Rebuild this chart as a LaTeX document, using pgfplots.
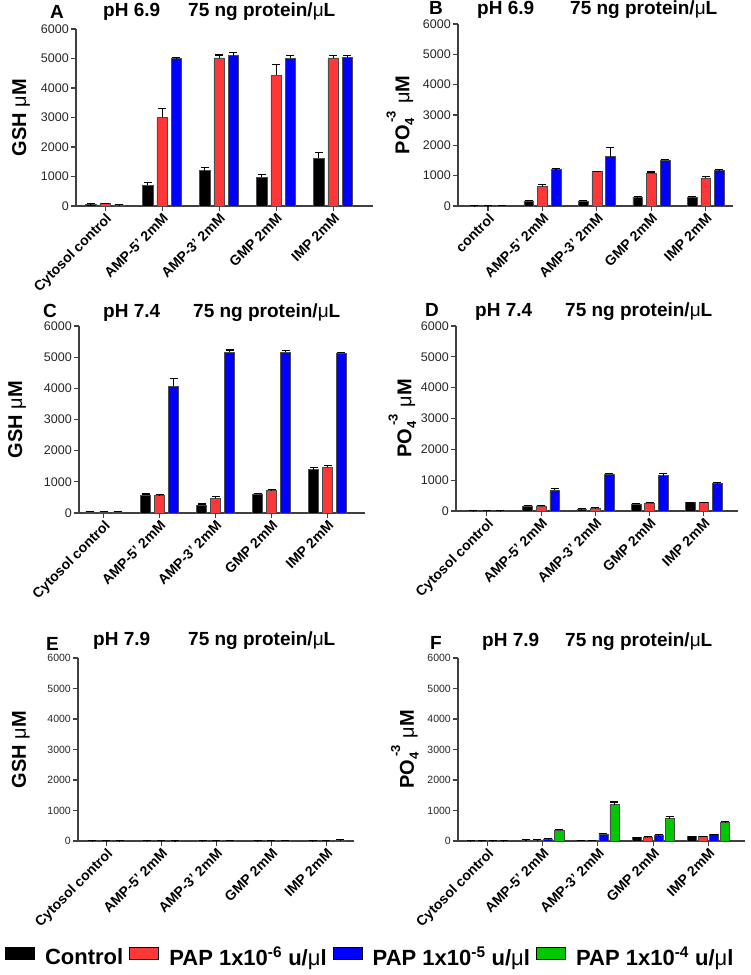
\documentclass[border=0pt]{standalone}
\usepackage{fontspec}
\setmainfont{Liberation Sans}
\usepackage{pgfplots}
\usepackage{pgfplotstable}
\pgfplotsset{compat=1.18}

\definecolor{cred}{RGB}{255,55,55}
\definecolor{cblue}{RGB}{0,0,255}
\definecolor{cgreen}{RGB}{0,200,0}
\newcommand{\fs}[1]{\fontsize{#1}{#1}\selectfont}

% x  control err  PAP-6 err  PAP-5 err
\pgfplotstableread{
x c ce r re b be
0 60 15 80 15 40 10
1 700 90 3000 300 5000 20
2 1200 120 5020 100 5100 90
3 980 90 4430 370 5010 100
4 1620 190 5020 90 5030 80
}\dataA
\pgfplotstableread{
x c ce r re b be
0 5 3 8 3 15 5
1 170 20 640 70 1200 30
2 170 15 1130 20 1630 300
3 280 20 1090 30 1510 30
4 280 20 930 30 1180 20
}\dataB
\pgfplotstableread{
x c ce r re b be
0 40 10 40 10 40 10
1 580 30 560 20 4070 240
2 260 30 470 60 5160 70
3 610 20 720 30 5160 60
4 1390 60 1460 70 5120 40
}\dataC
\pgfplotstableread{
x c ce r re b be
0 5 3 5 3 5 3
1 170 20 170 20 670 70
2 60 10 90 15 1190 30
3 230 20 260 20 1150 70
4 270 15 270 20 890 30
}\dataD
\pgfplotstableread{
x c ce r re b be
0 3 2 3 2 3 2
1 3 2 5 2 10 5
2 10 5 10 5 15 5
3 5 2 10 5 15 5
4 5 2 10 5 30 5
}\dataE
\pgfplotstableread{
x c ce r re b be g ge
0 10 3 10 3 10 3 10 3
1 40 5 40 5 70 10 360 30
2 15 5 20 5 220 30 1190 90
3 110 10 130 10 190 15 730 60
4 140 10 140 10 210 15 600 30
}\dataF

\pgfplotsset{
 panel/.style={
  scale only axis, anchor=south west, clip=false,
  axis lines=left, axis line style={-, line width=1.3pt, black!75},
  tick align=outside, major tick length=5pt,
  tick style={line width=1.1pt, black!75},
  ymin=0, ymax=6000, ytick={0,1000,...,6000},
  xtick={0,1,2,3,4},
  scaled y ticks=false,
  yticklabel style={font=\fs{12.5}, /pgf/number format/assume math mode=true, /pgf/number format/set thousands separator={}, black!85, inner sep=2pt},
  xticklabel style={rotate=45, anchor=north east, font=\bfseries\fs{14}, inner sep=1pt},
  xticklabels={Cytosol control, AMP-5' 2mM, AMP-3' 2mM, GMP 2mM, IMP 2mM},
  ylabel style={font=\fs{20}, anchor=center},
  error bars/y dir=plus, error bars/y explicit,
  error bars/error bar style={line width=1.1pt, black},
  error bars/error mark options={rotate=90, line width=1.1pt, black, mark size=4pt},
 },
 mybar/.style={ybar, bar width=#1, bar shift=0pt, draw=black!70, line width=0.5pt,
   legend image code/.code={\draw[##1, draw=black, line width=0.6pt] (0pt,-2pt) rectangle (29pt,10pt);}},
}

\newcommand{\gsh}{\textbf{GSH} μ\textbf{M}}
\newcommand{\po}{\textbf{PO}\makebox[0pt][l]{\raisebox{-0.45ex}{\fs{13}\textbf{4}}}\hspace{3pt}\raisebox{1.3ex}{\fs{13}\textbf{-3}}\hspace{7pt}μ\textbf{M}}

\begin{document}
\begin{tikzpicture}
\useasboundingbox (0pt,0pt) rectangle (750pt,975pt);

% ---------- A ----------
\begin{axis}[panel, at={(76pt,769pt)}, width=297pt, height=177pt, xmin=-0.51, xmax=4.70,
  ylabel={\gsh}, ylabel style={at={(axis description cs:-0.185,0.5)}}]
\addplot[mybar=0.18, fill=black] table[x expr=\thisrow{x}-0.25, y=c, y error=ce] {\dataA};
\addplot[mybar=0.18, fill=cred] table[x expr=\thisrow{x}, y=r, y error=re] {\dataA};
\addplot[mybar=0.18, fill=cblue] table[x expr=\thisrow{x}+0.25, y=b, y error=be] {\dataA};
\end{axis}

% ---------- B ----------
\begin{axis}[panel, at={(458pt,769pt)}, width=275pt, height=182pt, xmin=-0.55, xmax=4.50,
  xticklabels={control, AMP-5' 2mM, AMP-3' 2mM, GMP 2mM, IMP 2mM},
  ylabel={\po}, ylabel style={at={(axis description cs:-0.21,0.5)}}]
\addplot[mybar=0.18, fill=black] table[x expr=\thisrow{x}-0.25, y=c, y error=ce] {\dataB};
\addplot[mybar=0.18, fill=cred] table[x expr=\thisrow{x}, y=r, y error=re] {\dataB};
\addplot[mybar=0.18, fill=cblue] table[x expr=\thisrow{x}+0.25, y=b, y error=be] {\dataB};
\end{axis}

% ---------- C ----------
\begin{axis}[panel, at={(79pt,462pt)}, width=286pt, height=187pt, xmin=-0.44, xmax=4.67,
  ylabel={\gsh}, ylabel style={at={(axis description cs:-0.217,0.5)}}]
\addplot[mybar=0.18, fill=black] table[x expr=\thisrow{x}-0.25, y=c, y error=ce] {\dataC};
\addplot[mybar=0.18, fill=cred] table[x expr=\thisrow{x}, y=r, y error=re] {\dataC};
\addplot[mybar=0.18, fill=cblue] table[x expr=\thisrow{x}+0.25, y=b, y error=be] {\dataC};
\end{axis}

% ---------- D ----------
\begin{axis}[panel, at={(456pt,464pt)}, width=282pt, height=185pt, xmin=-0.57, xmax=4.63,
  ylabel={\po}, ylabel style={at={(axis description cs:-0.19,0.5)}}]
\addplot[mybar=0.18, fill=black] table[x expr=\thisrow{x}-0.25, y=c, y error=ce] {\dataD};
\addplot[mybar=0.18, fill=cred] table[x expr=\thisrow{x}, y=r, y error=re] {\dataD};
\addplot[mybar=0.18, fill=cblue] table[x expr=\thisrow{x}+0.25, y=b, y error=be] {\dataD};
\end{axis}

% ---------- E ----------
\begin{axis}[panel, at={(78pt,134pt)}, width=276pt, height=183pt, xmin=-0.51, xmax=4.50,
  yticklabel style={font=\fs{10.5}},
  ylabel={\gsh}, ylabel style={at={(axis description cs:-0.207,0.5)}}]
\addplot[mybar=0.18, fill=black] table[x expr=\thisrow{x}-0.25, y=c, y error=ce] {\dataE};
\addplot[mybar=0.18, fill=cred] table[x expr=\thisrow{x}, y=r, y error=re] {\dataE};
\addplot[mybar=0.18, fill=cblue] table[x expr=\thisrow{x}+0.25, y=b, y error=be] {\dataE};
\end{axis}

% ---------- F ----------
\begin{axis}[panel, at={(458pt,134pt)}, width=287pt, height=183pt, xmin=-0.53, xmax=4.66,
  yticklabel style={font=\fs{10.5}},
  ylabel={\po}, ylabel style={at={(axis description cs:-0.185,0.5)}},
  legend style={at={(axis description cs:-0.306,-0.634)}, anchor=center, legend columns=4,
    draw=none, fill=none, font=\bfseries\fs{22}, legend cell align=left,
    /tikz/every odd column/.append style={column sep=8.5pt},
    /tikz/every even column/.append style={column sep=4pt}}]
\addplot[mybar=0.165, fill=black] table[x expr=\thisrow{x}-0.3, y=c, y error=ce] {\dataF};
\addlegendentry{Control}
\addplot[mybar=0.165, fill=cred] table[x expr=\thisrow{x}-0.1, y=r, y error=re] {\dataF};
\addlegendentry{PAP 1x10\textsuperscript{-6} u/{\mdseries μ}l}
\addplot[mybar=0.165, fill=cblue] table[x expr=\thisrow{x}+0.1, y=b, y error=be] {\dataF};
\addlegendentry{PAP 1x10\textsuperscript{-5} u/{\mdseries μ}l}
\addplot[mybar=0.165, fill=cgreen] table[x expr=\thisrow{x}+0.3, y=g, y error=ge] {\dataF};
\addlegendentry{PAP 1x10\textsuperscript{-4} u/{\mdseries μ}l}
\end{axis}

% ---------- titles ----------
\begin{scope}[every node/.style={anchor=base west, inner sep=0pt, font=\bfseries\fs{19}}]
\node at (50pt,956pt) {A};  \node at (103pt,958pt) {pH 6.9}; \node at (188pt,958pt) {75 ng protein/{\mdseries μ}L};
\node at (429pt,960pt) {B}; \node at (477pt,960pt) {pH 6.9}; \node at (570pt,960pt) {75 ng protein/{\mdseries μ}L};
\node at (43pt,657pt) {C};  \node at (103pt,657pt) {pH 7.4}; \node at (193pt,657pt) {75 ng protein/{\mdseries μ}L};
\node at (425pt,658pt) {D}; \node at (475pt,658pt) {pH 7.4}; \node at (565pt,658pt) {75 ng protein/{\mdseries μ}L};
\node at (46pt,324pt) {E};  \node at (93pt,329pt) {pH 7.9};  \node at (188pt,329pt) {75 ng protein/{\mdseries μ}L};
\node at (430pt,325pt) {F}; \node at (482pt,328pt) {pH 7.9}; \node at (565pt,328pt) {75 ng protein/{\mdseries μ}L};
\end{scope}
\end{tikzpicture}
\end{document}
